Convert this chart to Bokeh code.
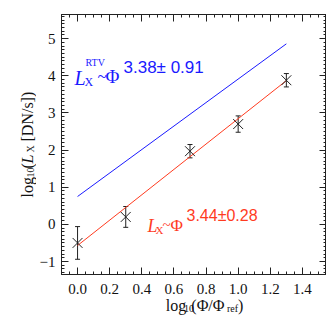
import math
from bokeh.plotting import figure
from bokeh.layouts import row, column
from bokeh.models import Label, LinearAxis, Whisker, ColumnDataSource, Range1d, FixedTicker
from bokeh.embed import file_html
from bokeh.resources import INLINE

# ---- data ----
x_vals = [0.0, 0.3, 0.7, 1.0, 1.3]
y_vals = [-0.50, 0.20, 1.97, 2.70, 3.88]
y_err = [0.44, 0.28, 0.18, 0.22, 0.18]
fit_x = [0.0, 1.3]
fit_y = [-0.57, 3.87]
rtv_x = [0.0, 1.3]
rtv_y = [0.75, 4.86]
x_ticks = [0.0, 0.2, 0.4, 0.6, 0.8, 1.0, 1.2, 1.4]
x_tick_labels = ["0.0", "0.2", "0.4", "0.6", "0.8", "1.0", "1.2", "1.4"]
y_ticks = [-1, 0, 1, 2, 3, 4, 5]
y_tick_labels = ["\u22121", "0", "1", "2", "3", "4", "5"]

XR = (-0.1, 1.55)
YR = (-1.35, 5.65)
BLUE = "#1a1aff"
RED = "#ff3b1f"
INK = "#111111"
SERIF = "Liberation Serif"
SANS = "Liberation Sans"

# frame placement in page pixels (page has no margin from bokeh's template)
FL, FR, FT, FB = 59, 324, 14, 274
YLAB_W = 36
MAIN_BOTTOM = 40

p = figure(frame_width=FR - FL, frame_height=FB - FT, output_backend="svg",
           toolbar_location=None, x_range=Range1d(*XR), y_range=Range1d(*YR),
           min_border_left=FL - YLAB_W, min_border_right=0, min_border_top=FT,
           min_border_bottom=MAIN_BOTTOM)
p.grid.visible = False
p.outline_line_color = "#222222"
p.background_fill_color = "white"
p.border_fill_color = "white"

x_minor = [round(-0.1 + 0.05 * i, 3) for i in range(34)]
y_minor = [round(-1.3 + 0.1 * i, 2) for i in range(70)]


def style_axis(ax, ticks, minor, labels):
    ax.ticker = FixedTicker(ticks=ticks, minor_ticks=minor)
    ax.major_tick_in = 7
    ax.major_tick_out = 0
    ax.minor_tick_in = 3
    ax.minor_tick_out = 0
    ax.axis_line_color = "#222222"
    ax.major_tick_line_color = "#222222"
    ax.minor_tick_line_color = "#222222"
    if labels is None:
        ax.major_label_text_color = None
        ax.major_label_standoff = 0
    else:
        ax.major_label_overrides = {t: l for t, l in zip(ticks, labels)}
        ax.major_label_text_font = SERIF
        ax.major_label_text_font_size = "15px"
        ax.major_label_text_color = INK


style_axis(p.xaxis[0], x_ticks, x_minor, x_tick_labels)
style_axis(p.yaxis[0], y_ticks, y_minor, y_tick_labels)
p.xaxis[0].major_label_standoff = 9
p.yaxis[0].major_label_standoff = 6

top_ax = LinearAxis()
right_ax = LinearAxis()
style_axis(top_ax, x_ticks, x_minor, None)
style_axis(right_ax, y_ticks, y_minor, None)
p.add_layout(top_ax, "above")
p.add_layout(right_ax, "right")

# lines
p.line(rtv_x, rtv_y, line_color=BLUE, line_width=1)
p.line(fit_x, fit_y, line_color=RED, line_width=1)

# error bars
src = ColumnDataSource(dict(x=x_vals, y=y_vals,
                            lo=[y - e for y, e in zip(y_vals, y_err)],
                            hi=[y + e for y, e in zip(y_vals, y_err)]))
w = Whisker(source=src, base="x", upper="hi", lower="lo", dimension="height",
            line_color="#222222", line_width=1)
w.upper_head.size = 5
w.lower_head.size = 5
w.upper_head.line_color = "#222222"
w.lower_head.line_color = "#222222"
p.add_layout(w)
p.scatter("x", "y", source=src, marker="x", size=14, line_color="#222222", line_width=1)


def dx(px):
    return XR[0] + (px - FL) / (FR - FL) * (XR[1] - XR[0])


def dy(py):
    return YR[1] - (py - FT) / (FB - FT) * (YR[1] - YR[0])


def put(fig, text, x, y, size, color, font=SERIF, style="normal", angle=0.0):
    fig.add_layout(Label(x=x, y=y, text=text, text_font=font,
                         text_font_size=f"{size}px", text_color=color,
                         text_font_style=style, angle=angle, text_align="left",
                         text_baseline="alphabetic"))


def ann(text, px, py, size, color, font=SERIF, style="normal"):
    put(p, text, dx(px), dy(py), size, color, font, style)


# blue annotation
ann("L", 72, 77, 20, BLUE, style="italic")
ann("X", 82, 81, 12, BLUE)
ann("RTV", 83, 62, 10, BLUE)
ann("~", 95, 76, 17, BLUE)
ann("\u03a6", 103, 76, 19, BLUE)
ann("3.38\u00b1 0.91", 121, 67, 17, BLUE, font=SANS)

# red annotation
ann("L", 145, 225, 18, RED, style="italic")
ann("X", 153, 229, 11, RED)
ann("~", 160, 224, 15, RED)
ann("\u03a6", 168, 225, 17, RED)
ann("3.44\u00b10.28", 184, 215, 16, RED, font=SANS)


def label_fig(wd, ht, margin):
    f = figure(width=wd, height=ht, output_backend="svg", toolbar_location=None,
               x_range=Range1d(0, wd), y_range=Range1d(ht, 0),
               x_axis_type=None, y_axis_type=None, min_border=0,
               margin=margin)
    f.grid.visible = False
    f.outline_line_color = None
    f.background_fill_color = None
    f.border_fill_color = None
    return f


main_h = FT + (FB - FT) + MAIN_BOTTOM
XL_TOP = 290
xl = label_fig(327 - YLAB_W, 327 - XL_TOP, (XL_TOP - main_h, 0, 0, 0))


def xlab(text, px, py, size, style="normal"):
    put(xl, text, px - YLAB_W, py - XL_TOP, size, INK, style=style)


xlab("log", 150, 305, 16)
xlab("10", 170, 308, 10)
xlab("(\u03a6/\u03a6", 178, 305, 16)
xlab("ref", 217, 308, 10)
xlab(")", 229, 305, 16)

# y axis label figure
yl = label_fig(YLAB_W, 320, (0, 0, 0, 0))
A = math.pi / 2


def ylab(text, px, py, size, style="normal"):
    put(yl, text, px, py, size, INK, style=style, angle=A)


ylab("log", 27, 197, 16)
ylab("10", 30, 177, 10)
ylab("(", 27, 168, 16)
ylab("L", 27, 163, 16, style="italic")
ylab("X", 30, 152, 10)
ylab("[DN/s])", 27, 141, 16)

layout = row(yl, column(p, xl, spacing=0), spacing=0)
open("out.html", "w").write(file_html(layout, INLINE))
